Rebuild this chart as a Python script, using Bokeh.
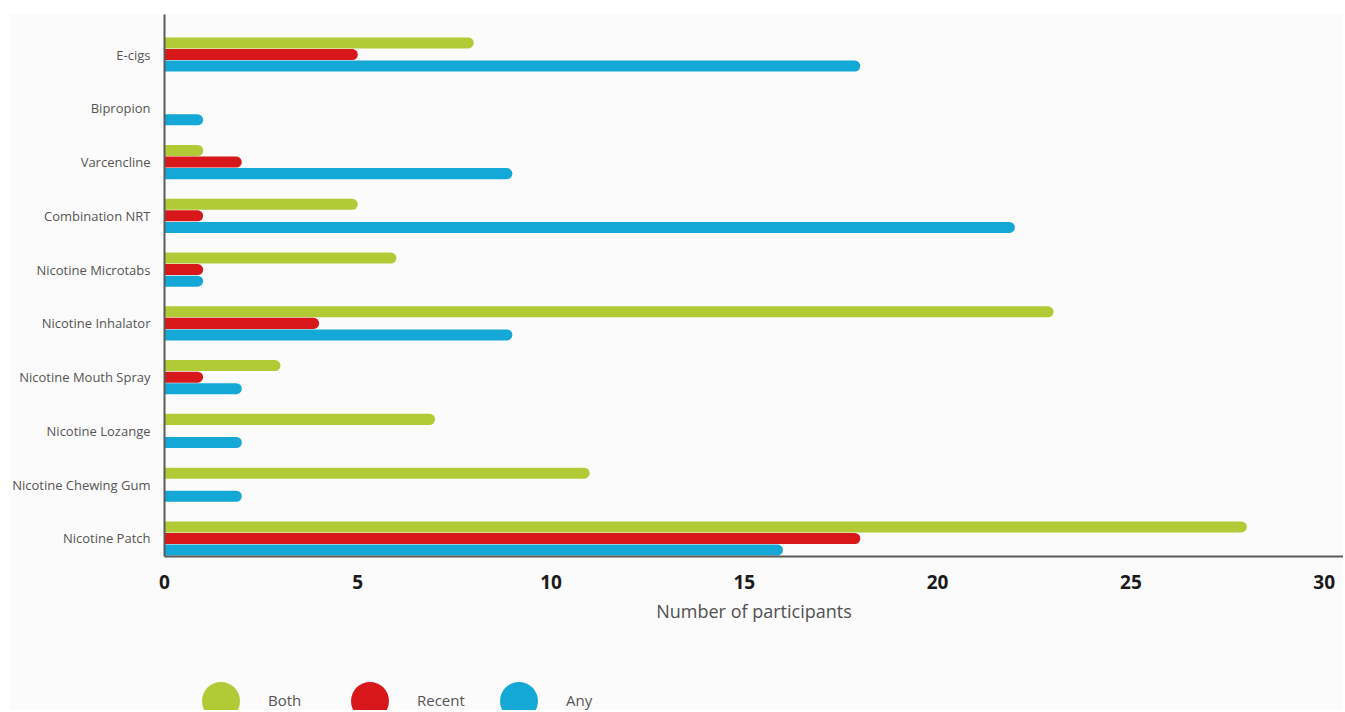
from bokeh.plotting import figure
from bokeh.layouts import column
from bokeh.models import (ColumnDataSource, Range1d, FixedTicker, Legend, LegendItem)
from bokeh.transform import dodge
from bokeh.embed import file_html
from bokeh.resources import INLINE

# ---- data (top to bottom as shown) ----
categories = ["E-cigs", "Bipropion", "Varcencline", "Combination NRT",
              "Nicotine Microtabs", "Nicotine Inhalator", "Nicotine Mouth Spray",
              "Nicotine Lozange", "Nicotine Chewing Gum", "Nicotine Patch"]
both   = [8, 0, 1, 5, 6, 23, 3, 7, 11, 28]
recent = [5, 0, 2, 1, 1, 4, 1, 0, 0, 18]
any_   = [18, 1, 9, 22, 1, 9, 2, 2, 2, 16]
x_ticks = [0, 5, 10, 15, 20, 25, 30]

series_names = ["Both", "Recent", "Any"]
colors = ["#b0cb35", "#d7171a", "#14a8d6"]

n = len(categories)
pos = [n - 1 - i for i in range(n)]  # top category highest

src = ColumnDataSource(dict(pos=pos, cat=categories, both=both, recent=recent, any=any_))

BG = "#fbfbfb"
FONT = "Open Sans"
W = 1334

p = figure(width=W, height=638, output_backend="svg", toolbar_location=None,
           x_range=Range1d(0, 30.5), y_range=Range1d(-0.335, n - 1 + 0.744),
           min_border_left=155, min_border_right=0, min_border_top=1, min_border_bottom=95,
           background_fill_color=BG, border_fill_color=BG, outline_line_color=None,
           margin=(13, 0, 0, 9))

bh = 0.205
offs = [0.215, 0.0, -0.215]
cols = ["both", "recent", "any"]
for c, off, col in zip(cols, offs, colors):
    p.hbar(y=dodge("pos", off), left=0, right=c, height=bh, source=src,
           fill_color=col, line_color=None, border_radius=(0, 6, 6, 0))

p.xgrid.visible = False
p.ygrid.visible = False

# x axis
xa = p.xaxis[0]
xa.ticker = FixedTicker(ticks=x_ticks)
xa.axis_label = "Number of participants"
xa.axis_label_text_font = FONT
xa.axis_label_text_font_size = "18px"
xa.axis_label_text_font_style = "normal"
xa.axis_label_text_color = "#505050"
xa.axis_label_standoff = 7
xa.major_label_text_font = FONT
xa.major_label_text_font_size = "19px"
xa.major_label_text_font_style = "bold"
xa.major_label_text_color = "#1a1a1a"
xa.major_label_standoff = 12
xa.major_tick_line_color = None
xa.minor_tick_line_color = None
xa.axis_line_color = "#5a5a5a"
xa.axis_line_width = 2

# y axis
ya = p.yaxis[0]
ya.ticker = FixedTicker(ticks=pos)
ya.major_label_overrides = {pp: c for pp, c in zip(pos, categories)}
ya.major_label_text_font = FONT
ya.major_label_text_font_size = "13px"
ya.major_label_text_color = "#555555"
ya.major_label_standoff = 8
ya.major_tick_line_color = None
ya.minor_tick_line_color = None
ya.axis_line_color = "#5a5a5a"
ya.axis_line_width = 2

# legend strip below the chart (legend swatches only; the marker glyphs themselves have size 0)
lg = figure(width=W, height=59, output_backend="svg", toolbar_location=None,
            x_range=Range1d(0, 1), y_range=Range1d(0, 1),
            min_border=0, background_fill_color=BG, border_fill_color=BG,
            outline_line_color=None, margin=(0, 0, 0, 9))
lg.axis.visible = False
lg.grid.visible = False
items = []
for name, c, col in zip(series_names, cols, colors):
    dr = lg.scatter(x=c, y="pos", source=src, marker="circle", size=0,
                    fill_color=col, line_color=None)
    items.append(LegendItem(label=name, renderers=[dr]))

legend = Legend(items=items, orientation="horizontal", location=(9, -37.5),
                glyph_width=95, glyph_height=95, label_standoff=-19, label_width=52,
                spacing=2, padding=0, margin=0, border_line_color=None,
                background_fill_alpha=0, label_text_font=FONT,
                label_text_font_size="15px", label_text_color="#555555")
lg.add_layout(legend)

layout = column(p, lg, spacing=0)
open("out.html", "w").write(file_html(layout, INLINE))
